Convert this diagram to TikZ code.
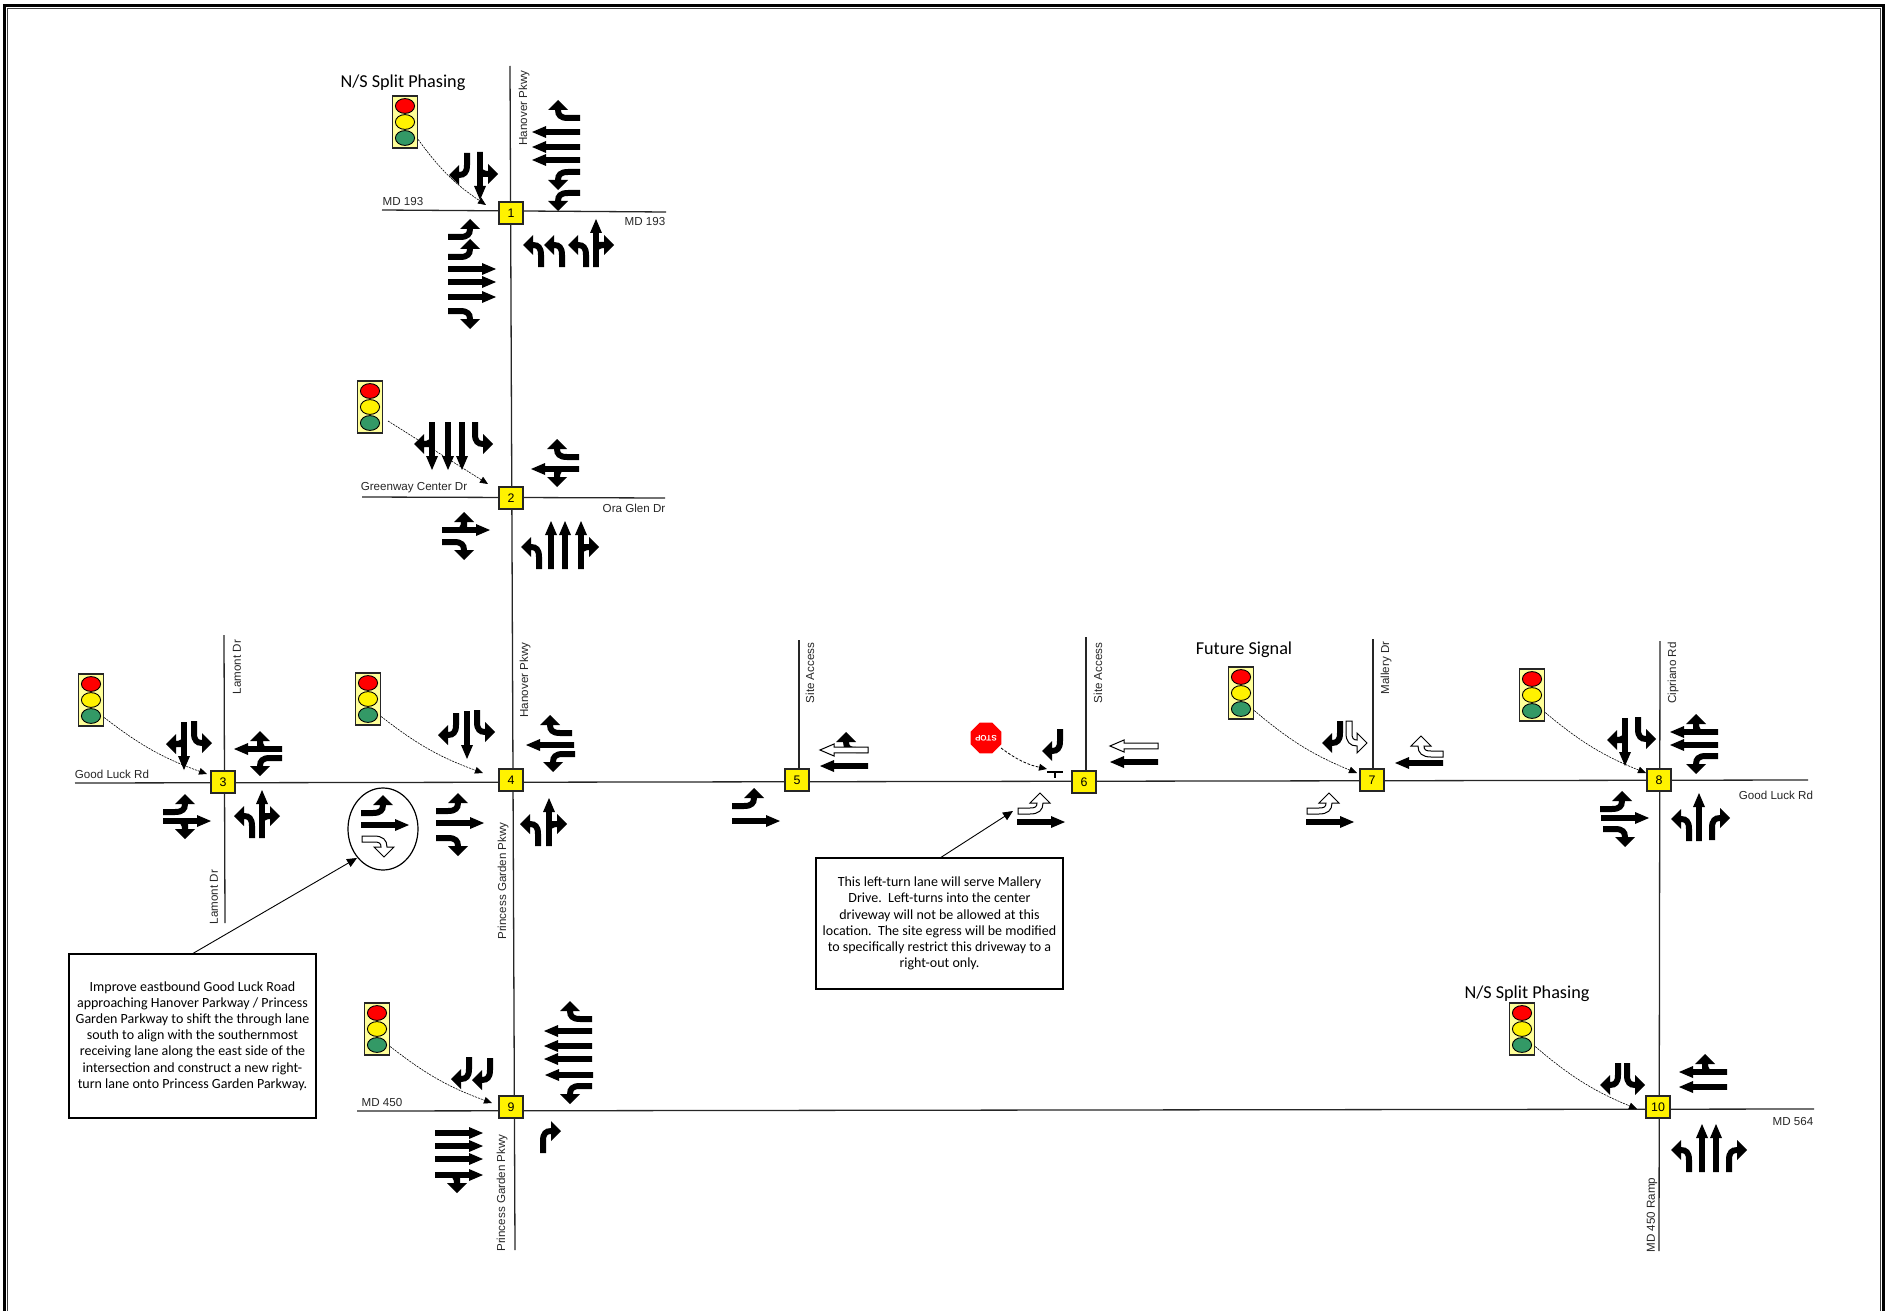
\documentclass[tikz,border=0pt]{standalone}
\usepackage{fontspec}
\setmainfont{Liberation Sans}
\newfontfamily\calibri{Carlito}
\usetikzlibrary{shapes.geometric,arrows.meta}
\definecolor{sigbody}{HTML}{FFFF99}
\definecolor{siggreen}{HTML}{339966}
\definecolor{roadc}{HTML}{262626}
\tikzset{
  lanek/.style={fill=black,draw=none},
  lanew/.style={fill=white,draw=black,line width=.5pt},
  road/.style={draw=roadc,line width=.65pt},
  ibox/.style={draw=roadc,line width=.65pt,fill=yellow,minimum width=12pt,minimum height=11pt,inner sep=0pt,font=\fontsize{6.2}{7}\selectfont},
  lab/.style={inner sep=0pt,text=roadc,font=\fontsize{5.8}{7}\selectfont},
  sigtitle/.style={inner sep=0pt,font=\calibri\fontsize{9.1}{10}\selectfont},
  sigb/.style={draw=roadc,line width=.6pt,fill=sigbody,minimum width=12.6pt,minimum height=26pt,inner sep=0pt},
  lamp/.style={ellipse,draw=black,line width=.45pt,minimum width=9.6pt,minimum height=7.4pt,inner sep=0pt},
  leader/.style={draw=black,line width=.3pt,dash pattern=on 1pt off .5pt,-{Triangle[length=4pt,width=3.4pt]}},
  callout/.style={draw=black,line width=.6pt,fill=white,inner sep=0pt,align=center,font=\calibri\fontsize{7}{8.1}\selectfont},
  calarrow/.style={draw=black,line width=.45pt,-{Triangle[length=5pt,width=4.4pt]}},
}
\newcommand\shT{(0,-2.8) -- (34,-2.8) -- (34,-6) -- (48,0) -- (34,6) -- (34,2.8) -- (0,2.8) -- cycle}
\newcommand\shL{(0,-3) -- (12,-3) .. controls (17,-3) and (19,-4) .. (19,-8) -- (12,-8) -- (22,-18) -- (32,-8) -- (25,-8) .. controls (25,-1) and (21,3) .. (12,3) -- (0,3) -- cycle}
\newcommand\shB{(12,0) .. controls (17,-1) and (19,-4) .. (19,-8) -- (12,-8) -- (22,-18) -- (32,-8) -- (25,-8) -- (25,0) -- cycle}
\newcommand\laneT{\path[lanek] \shT;}
\newcommand\laneL{\path[lanek] \shL;}
\newcommand\laneR{\begin{scope}[yscale=-1]\path[lanek] \shL;\end{scope}}
\newcommand\laneTL{\path[lanek] \shT; \path[lanek] \shB;}
\newcommand\laneTR{\path[lanek] \shT; \begin{scope}[yscale=-1]\path[lanek] \shB;\end{scope}}
\newcommand\laneWT{\path[lanew] \shT;}
\newcommand\laneWL{\path[lanew] \shL;}
\newcommand\laneWR{\begin{scope}[yscale=-1]\path[lanew] \shL;\end{scope}}
% type, x, y, heading (0 east, 90 north, 180 west, 270 south)
\newcommand\Lane[4]{\begin{scope}[shift={(#2,#3)},rotate=#4]\csname lane#1\endcsname\end{scope}}
% signal head: name, centre x, centre y
\newcommand\Sig[3]{%
  \node[sigb] (#1) at (#2,#3) {};
  \node[lamp,fill=red] (#1r) at (#2,#3-16) {};
  \node[lamp,fill=yellow] (#1y) at (#2,#3) {};
  \node[lamp,fill=siggreen] (#1g) at (#2,#3+16) {};
}
\begin{document}
\begin{tikzpicture}[x=.5pt,y=-.5pt]
\useasboundingbox (0,0) rectangle (1887,1311);
% frame
\draw[black,line width=1.5pt] (4.5,1311) -- (4.5,5.5) -- (1883.5,5.5) -- (1883.5,1311);
\draw[black!75,line width=.45pt] (7.8,1311) -- (7.8,8.8) -- (1880.3,8.8) -- (1880.3,1311);

% road end points
\coordinate (nT) at (510,66);  \coordinate (nB) at (515,1250);
\coordinate (a1W) at (382,210); \coordinate (a1E) at (666,212);
\coordinate (a2W) at (362,497); \coordinate (a2E) at (665,498);
\coordinate (glW) at (75,783);  \coordinate (glE) at (1808,780);
\coordinate (md450W) at (357,1111); \coordinate (md450E) at (1814,1109);
\coordinate (l3T) at (224,635); \coordinate (l3B) at (225,923);
\coordinate (s5T) at (799,640); \coordinate (s5B) at (799,772);
\coordinate (s6T) at (1086,637); \coordinate (s6B) at (1086,774);
\coordinate (m7T) at (1373,639); \coordinate (m7B) at (1373,772);
\coordinate (c8T) at (1660,641); \coordinate (r10B) at (1659,1251);

% roads
\draw[road] (nT) -- (nB);
\draw[road] (a1W) -- (a1E);
\draw[road] (a2W) -- (a2E);
\draw[road] (glW) -- (glE);
\draw[road] (md450W) -- (md450E);
\draw[road] (l3T) -- (l3B);
\draw[road] (s5T) -- (s5B);
\draw[road] (s6T) -- (s6B);
\draw[road] (m7T) -- (m7B);
\draw[road] (c8T) -- (r10B);

% intersection boxes
\node[ibox] (i1) at (511,213) {1};
\node[ibox] (i2) at (511,498) {2};
\node[ibox] (i3) at (223,782) {3};
\node[ibox] (i4) at (511,780) {4};
\node[ibox] (i5) at (797,780) {5};
\node[ibox] (i6) at (1084,782) {6};
\node[ibox] (i7) at (1372,780) {7};
\node[ibox] (i8) at (1659,780) {8};
\node[ibox] (i9) at (511,1107) {9};
\node[ibox] (i10) at (1658,1107) {10};

% road labels
\node[lab] (t1) at (403,202) {MD 193};
\node[lab] (t2) at (645,222) {MD 193};
\node[lab,rotate=90] (t3) at (524,108) {Hanover Pkwy};
\node[lab] (t4) at (414,488) {Greenway Center Dr};
\node[lab] (t5) at (634,508) {Ora Glen Dr};
\node[lab] (t6) at (112,774) {Good Luck Rd};
\node[lab] (t7) at (1776,795) {Good Luck Rd};
\node[lab,rotate=90] (t8) at (237,667) {Lamont Dr};
\node[lab,rotate=90] (t9) at (214,897) {Lamont Dr};
\node[lab,rotate=90] (t10) at (525,680) {Hanover Pkwy};
\node[lab,rotate=90] (t11) at (503,881) {Princess Garden Pkwy};
\node[lab,rotate=90] (t12) at (810,673) {Site Access};
\node[lab,rotate=90] (t13) at (1098,673) {Site Access};
\node[lab,rotate=90] (t14) at (1386,668) {Mallery Dr};
\node[lab,rotate=90] (t15) at (1673,673) {Cipriano Rd};
\node[lab] (t16) at (382,1102) {MD 450};
\node[lab,rotate=90] (t17) at (502,1193) {Princess Garden Pkwy};
\node[lab,rotate=90] (t18) at (1652,1215) {MD 450 Ramp};
\node[lab] (t19) at (1793,1122) {MD 564};
\node[sigtitle] (t20) at (403,83) {N/S Split Phasing};
\node[sigtitle] (t21) at (1244,650) {Future Signal};
\node[sigtitle] (t22) at (1527,994) {N/S Split Phasing};

% signals and leaders
\Sig{s1}{405}{122}
\Sig{s2}{370}{407}
\Sig{s3}{91}{700}
\Sig{s4}{368}{699}
\Sig{s7}{1241}{693}
\Sig{s8}{1532}{695}
\Sig{s9}{377}{1029}
\Sig{s10}{1522}{1029}
\coordinate (e1) at (486,205);  \draw[leader] (s1.-53) to[bend right=10] (e1);
\coordinate (b2) at (388,421); \coordinate (e2) at (488,484); \draw[leader] (b2) -- (e2);
\coordinate (e3) at (207,774);  \draw[leader] (s3.-53) to[bend right=9] (e3);
\coordinate (e4) at (483,773);  \draw[leader] (s4.-53) to[bend right=9] (e4);
\coordinate (e7) at (1357,773); \draw[leader] (s7.-53) to[bend right=9] (e7);
\coordinate (e8) at (1646,773); \draw[leader] (s8.-53) to[bend right=9] (e8);
\coordinate (e9) at (492,1103); \draw[leader] (s9.-53) to[bend right=9] (e9);
\coordinate (e10) at (1637,1109); \draw[leader] (s10.-53) to[bend right=9] (e10);

% stop sign and stop bar
\node[regular polygon,regular polygon sides=8,fill=red,minimum size=13.2pt,inner sep=0pt,rotate=180,text=white,font=\bfseries\fontsize{4}{4}\selectfont] (stop) at (986,738) {STOP};
\coordinate (b6) at (1001,748); \coordinate (e6) at (1047,769);
\draw[leader,dash pattern=on 1.4pt off .8pt,line width=.4pt] (b6) to[bend right=12] (e6);
\coordinate (bar1) at (1047,772); \coordinate (bar2) at (1063,772); \coordinate (bar3) at (1055,772); \coordinate (bar4) at (1055,778);
\draw[black,line width=1.1pt] (bar1) -- (bar2);
\draw[black,line width=.7pt] (bar3) -- (bar4);

% lanes: intersection 1
\Lane{R}{580}{118}{180} \Lane{T}{580}{132}{180} \Lane{T}{580}{147}{180} \Lane{T}{580}{160}{180}
\Lane{L}{580}{172}{180} \Lane{L}{580}{193}{180}
\Lane{R}{467}{153}{270} \Lane{TL}{480}{152}{270}
\Lane{L}{448}{237}{0} \Lane{L}{448}{257}{0} \Lane{T}{448}{269}{0} \Lane{T}{448}{282}{0} \Lane{T}{448}{297}{0} \Lane{R}{448}{311}{0}
\Lane{L}{541}{267}{90} \Lane{L}{562}{267}{90} \Lane{L}{586}{267}{90} \Lane{TR}{596}{267}{90}
% intersection 2
\Lane{TR}{432}{422}{270} \Lane{T}{448}{422}{270} \Lane{T}{462}{422}{270} \Lane{L}{475}{422}{270}
\Lane{R}{579}{457}{180} \Lane{TL}{579}{469}{180}
\Lane{TL}{442}{530}{0} \Lane{R}{442}{542}{0}
\Lane{L}{539}{569}{90} \Lane{T}{551}{569}{90} \Lane{T}{565}{569}{90} \Lane{TR}{581}{569}{90}
% intersection 3
\Lane{TR}{184}{722}{270} \Lane{L}{194}{721}{270}
\Lane{TR}{282}{749}{180} \Lane{L}{282}{758}{180}
\Lane{L}{163}{812}{0} \Lane{TR}{163}{821}{0}
\Lane{L}{252}{838}{90} \Lane{TR}{262}{838}{90}
% intersection 4
\Lane{R}{456}{713}{270} \Lane{T}{467}{711}{270} \Lane{L}{477}{710}{270}
\Lane{R}{572}{733}{180} \Lane{T}{574}{745}{180} \Lane{L}{575}{754}{180}
\Lane{L}{436}{811}{0} \Lane{T}{436}{823}{0} \Lane{R}{436}{838}{0}
\Lane{L}{538}{846}{90} \Lane{TR}{549}{846}{90}
% ellipse with the proposed eastbound approach
\node[ellipse,draw=black,line width=.6pt,minimum width=35pt,minimum height=41pt,inner sep=0pt] (oval) at (383,829) {};
\Lane{L}{361}{813}{0} \Lane{T}{361}{825}{0} \Lane{WR}{362}{839}{0}
% intersection 5
\Lane{R}{868}{750}{180} \Lane{WT}{868}{750}{180} \Lane{T}{868}{766}{180}
\Lane{L}{732}{806}{0} \Lane{T}{732}{821}{0}
% intersection 6
\Lane{R}{1060}{729}{270}
\Lane{WL}{1018}{811}{0} \Lane{T}{1017}{822}{0}
\Lane{WT}{1158}{746}{180} \Lane{T}{1158}{762}{180}
% intersection 7
\Lane{R}{1340}{721}{270} \Lane{WL}{1349}{721}{270}
\Lane{WR}{1443}{754}{180} \Lane{T}{1443}{763}{180}
\Lane{WL}{1307}{811}{0} \Lane{T}{1306}{822}{0}
% intersection 8
\Lane{TR}{1625}{718}{270} \Lane{L}{1638}{717}{270}
\Lane{TR}{1718}{732}{180} \Lane{T}{1718}{745}{180} \Lane{L}{1718}{756}{180}
\Lane{L}{1600}{809}{0} \Lane{T}{1601}{818}{0} \Lane{R}{1603}{829}{0}
\Lane{L}{1689}{841}{90} \Lane{T}{1699}{841}{90} \Lane{R}{1712}{840}{90}
% intersection 9
\Lane{R}{469}{1057}{270} \Lane{R}{490}{1058}{270}
\Lane{R}{592}{1019}{180} \Lane{T}{592}{1031}{180} \Lane{T}{592}{1046}{180} \Lane{T}{592}{1059}{180} \Lane{T}{593}{1075}{180} \Lane{L}{592}{1086}{180}
\Lane{T}{435}{1133}{0} \Lane{T}{435}{1146}{0} \Lane{T}{435}{1159}{0} \Lane{TR}{435}{1175}{0}
\Lane{R}{543}{1153}{90}
% intersection 10
\Lane{R}{1618}{1063}{270} \Lane{L}{1627}{1063}{270}
\Lane{TR}{1727}{1072}{180} \Lane{T}{1727}{1087}{180}
\Lane{L}{1689}{1172}{90} \Lane{T}{1702}{1172}{90} \Lane{T}{1716}{1172}{90} \Lane{R}{1729}{1172}{90}

% callouts
\node[callout,minimum width=123.5pt,minimum height=82pt] (c1) at (192.5,1036) {Improve eastbound Good Luck Road\\approaching Hanover Parkway / Princess\\Garden Parkway to shift the through lane\\south to align with the southernmost\\receiving lane along the east side of the\\intersection and construct a new right-\\turn lane onto Princess Garden Parkway.};
\node[callout,minimum width=123.5pt,minimum height=65.5pt] (c2) at (939.5,923.5) {This left-turn lane will serve Mallery\\Drive.\ \ Left-turns into the center\\driveway will not be allowed at this\\location.\ \ The site egress will be modified\\to specifically restrict this driveway to a\\right-out only.};
\coordinate (c1s) at (192,954); \coordinate (c1e) at (357,858);
\coordinate (c2s) at (940,858); \coordinate (c2e) at (1013,811);
\draw[calarrow] (c1s) -- (c1e);
\draw[calarrow] (c2s) -- (c2e);
\end{tikzpicture}
\end{document}
